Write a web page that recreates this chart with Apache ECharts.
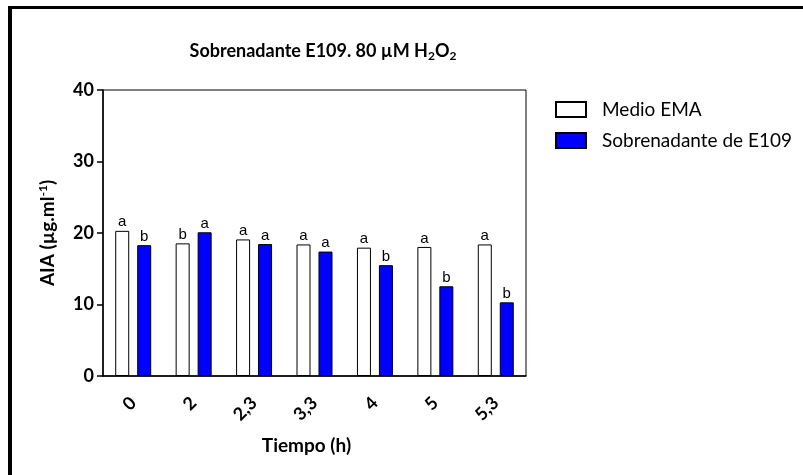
<!DOCTYPE html>
<html>
<head>
<meta charset="utf-8">
<script src="https://cdn.jsdelivr.net/npm/echarts@6/dist/echarts.min.js"></script>
<style>html,body{margin:0;padding:0;background:#fff;}#c{width:803px;height:475px;}</style>
</head>
<body>
<div id="c"></div>
<script>
const categories = ['0', '2', '2,3', '3,3', '4', '5', '5,3'];
const emaValues = [20.3, 18.55, 19.1, 18.4, 17.95, 18.05, 18.4];
const supValues = [18.3, 20.1, 18.45, 17.4, 15.5, 12.55, 10.3];
const emaLetters = ['a', 'b', 'a', 'a', 'a', 'a', 'a'];
const supLetters = ['b', 'a', 'a', 'a', 'b', 'b', 'b'];
const yTicks = [0, 10, 20, 30, 40];

const FONT = 'Lato, "Open Sans", sans-serif';
const chart = echarts.init(document.getElementById('c'));
chart.setOption({
  animation: false,
  backgroundColor: '#fff',
  title: {
    text: 'Sobrenadante E109. 80 µM H{sub|2}O{sub|2}',
    left: 318, top: 36, textAlign: 'center',
    textStyle: {
      fontFamily: FONT, fontWeight: 'bold', fontSize: 18, color: '#000',
      rich: { sub: { fontFamily: FONT, fontWeight: 'bold', fontSize: 12, color: '#000', verticalAlign: 'bottom', padding: [9, 0, 0, 0] } }
    }
  },
  legend: {
    left: 550, top: 95, orient: 'vertical', itemWidth: 30, itemHeight: 15, itemGap: 12, icon: 'rect',
    textStyle: { fontFamily: FONT, fontSize: 19, color: '#000', padding: [0, 0, 0, 11] },
    data: ['Medio EMA', 'Sobrenadante de E109']
  },
  grid: { left: 103, right: 277, top: 90, bottom: 99, show: true, borderColor: '#000', borderWidth: 1 },
  xAxis: {
    type: 'category', data: categories,
    name: 'Tiempo (h)', nameLocation: 'middle', nameGap: 60,
    nameTextStyle: { fontFamily: FONT, fontWeight: 'bold', fontSize: 19, color: '#000', padding: [0, 16, 0, 0] },
    axisLine: { lineStyle: { color: '#000', width: 1.5 } },
    axisTick: { alignWithLabel: true, length: 6, lineStyle: { color: '#000', width: 1.5 } },
    axisLabel: { rotate: 45, margin: 24, fontFamily: FONT, fontWeight: 'bold', fontSize: 18, color: '#000' }
  },
  yAxis: {
    type: 'value', min: yTicks[0], max: yTicks[yTicks.length - 1], interval: 10,
    name: 'AIA (µg.ml{sup|-1})', nameLocation: 'middle', nameGap: 44, nameRotate: 90,
    nameTextStyle: {
      fontFamily: FONT, fontWeight: 'bold', fontSize: 19, color: '#000',
      rich: { sup: { fontFamily: FONT, fontWeight: 'bold', fontSize: 12, color: '#000', verticalAlign: 'top', padding: [0, 0, 10, 0] } }
    },
    axisLine: { show: true, lineStyle: { color: '#000', width: 1.5 } },
    axisTick: { show: true, length: 6, lineStyle: { color: '#000', width: 1.5 } },
    axisLabel: { margin: 9, fontFamily: FONT, fontWeight: 'bold', fontSize: 18, color: '#000' },
    splitLine: { show: false }
  },
  series: [
    {
      name: 'Medio EMA', type: 'bar', data: emaValues, barWidth: 14, barGap: '57%',
      itemStyle: { color: '#fff', borderColor: '#000', borderWidth: 1 },
      label: { show: true, position: 'top', distance: 1, fontFamily: 'Arial, "Liberation Sans", sans-serif', fontSize: 15, color: '#000',
        formatter: p => emaLetters[p.dataIndex] }
    },
    {
      name: 'Sobrenadante de E109', type: 'bar', data: supValues, barWidth: 14,
      itemStyle: { color: '#0000ff', borderColor: '#000', borderWidth: 1 },
      label: { show: true, position: 'top', distance: 1, fontFamily: 'Arial, "Liberation Sans", sans-serif', fontSize: 15, color: '#000',
        formatter: p => supLetters[p.dataIndex] }
    }
  ],
  graphic: [
    { type: 'line', shape: { x1: 8, y1: 7.5, x2: 803, y2: 7.5 }, style: { stroke: '#000', lineWidth: 3 } },
    { type: 'line', shape: { x1: 10, y1: 6, x2: 10, y2: 475 }, style: { stroke: '#000', lineWidth: 4 } }
  ]
});
</script>
</body>
</html>
